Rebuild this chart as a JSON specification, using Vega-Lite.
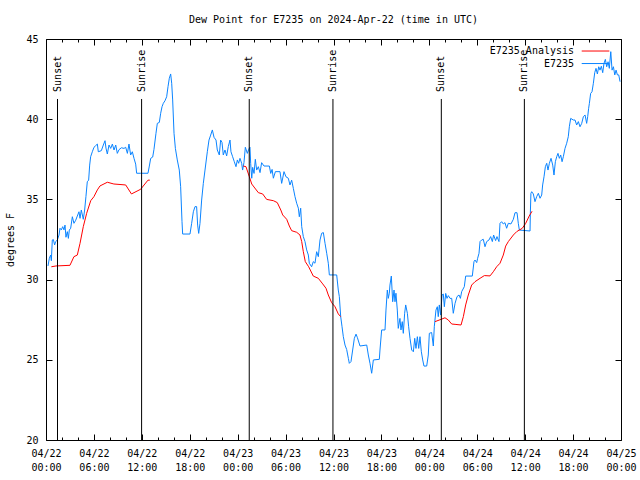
{
  "$schema": "https://vega.github.io/schema/vega-lite/v6.json",
  "width": 575,
  "height": 401,
  "autosize": {"type": "none"},
  "padding": {"left": 46, "top": 39, "right": 19, "bottom": 40},
  "background": "white",
  "title": {"text": "Dew Point for E7235 on 2024-Apr-22 (time in UTC)", "font": "DejaVu Sans Mono", "fontSize": 10, "fontWeight": "normal", "color": "black", "anchor": "middle", "baseline": "alphabetic", "offset": 1},
  "config": {
    "view": {"stroke": "black", "strokeWidth": 1},
    "axis": {"grid": false, "domain": false, "tickColor": "black", "labelFont": "DejaVu Sans Mono", "labelFontSize": 10, "labelColor": "black", "titleFont": "DejaVu Sans Mono", "titleFontSize": 10, "titleFontWeight": "normal", "titleColor": "black"}
  },
  "datasets": {
    "obs": [
      {"h":0.25,"v":30.85},{"h":0.42,"v":31.33},{"h":0.58,"v":31.53},{"h":0.67,"v":31.18},{"h":0.79,"v":32.47},{"h":0.92,"v":32.5},{"h":1.08,"v":32.16},{"h":1.21,"v":32.37},{"h":1.42,"v":32.47},{"h":1.63,"v":32.78},{"h":1.75,"v":33.2},{"h":1.92,"v":33.1},{"h":2.09,"v":33.3},{"h":2.25,"v":33.1},{"h":2.38,"v":33.4},{"h":2.5,"v":32.64},{"h":2.67,"v":32.99},{"h":2.8,"v":32.57},{"h":2.92,"v":33.09},{"h":3.09,"v":33.2},{"h":3.3,"v":33.92},{"h":3.5,"v":33.51},{"h":3.72,"v":33.7},{"h":3.92,"v":33.96},{"h":4.13,"v":34.23},{"h":4.26,"v":33.82},{"h":4.42,"v":34.34},{"h":4.67,"v":33.76},{"h":4.84,"v":34.34},{"h":5.0,"v":35.17},{"h":5.17,"v":36.1},{"h":5.34,"v":36.2},{"h":5.47,"v":37.14},{"h":5.59,"v":37.66},{"h":5.8,"v":37.97},{"h":6.01,"v":38.25},{"h":6.22,"v":38.35},{"h":6.43,"v":38.45},{"h":6.55,"v":37.97},{"h":6.93,"v":38.04},{"h":7.18,"v":38.39},{"h":7.39,"v":38.66},{"h":7.51,"v":38.2},{"h":7.68,"v":37.83},{"h":7.89,"v":38.39},{"h":8.1,"v":38.18},{"h":8.31,"v":38.45},{"h":8.52,"v":38.08},{"h":8.73,"v":38.39},{"h":8.93,"v":37.87},{"h":9.14,"v":38.1},{"h":9.44,"v":38.22},{"h":9.77,"v":38.18},{"h":9.98,"v":38.25},{"h":10.19,"v":37.87},{"h":10.39,"v":38.45},{"h":10.6,"v":37.77},{"h":10.81,"v":37.97},{"h":11.02,"v":37.56},{"h":11.23,"v":37.2},{"h":11.35,"v":36.63},{"h":11.85,"v":36.63},{"h":12.77,"v":36.63},{"h":12.94,"v":37.08},{"h":13.11,"v":37.56},{"h":13.36,"v":37.64},{"h":13.52,"v":38.12},{"h":13.77,"v":39.12},{"h":13.94,"v":39.74},{"h":14.19,"v":39.8},{"h":14.36,"v":40.37},{"h":14.53,"v":40.78},{"h":14.69,"v":40.99},{"h":14.9,"v":41.15},{"h":15.11,"v":41.4},{"h":15.28,"v":42.03},{"h":15.44,"v":42.55},{"h":15.61,"v":42.82},{"h":15.74,"v":42.24},{"h":15.86,"v":41.2},{"h":16.03,"v":39.12},{"h":16.2,"v":38.18},{"h":16.44,"v":37.46},{"h":16.69,"v":36.83},{"h":16.86,"v":35.79},{"h":17.03,"v":33.61},{"h":17.11,"v":32.84},{"h":18.03,"v":32.84},{"h":18.24,"v":33.51},{"h":18.45,"v":34.23},{"h":18.66,"v":34.55},{"h":18.86,"v":34.55},{"h":18.99,"v":33.4},{"h":19.12,"v":32.88},{"h":19.28,"v":33.5},{"h":19.49,"v":34.96},{"h":19.7,"v":36.0},{"h":19.91,"v":36.83},{"h":20.2,"v":37.97},{"h":20.41,"v":38.7},{"h":20.62,"v":39.01},{"h":20.83,"v":39.33},{"h":21.04,"v":38.87},{"h":21.29,"v":38.7},{"h":21.45,"v":38.08},{"h":21.7,"v":37.77},{"h":21.87,"v":38.7},{"h":22.04,"v":38.55},{"h":22.2,"v":37.77},{"h":22.41,"v":38.08},{"h":22.62,"v":37.71},{"h":22.83,"v":38.3},{"h":23.04,"v":38.7},{"h":23.16,"v":37.97},{"h":23.37,"v":37.66},{"h":23.58,"v":37.35},{"h":23.79,"v":37.04},{"h":23.96,"v":37.46},
      {"h":24.12,"v":37.25},{"h":24.29,"v":37.56},{"h":24.5,"v":37.25},{"h":24.62,"v":36.83},{"h":24.79,"v":37.3},{"h":24.96,"v":38.25},{"h":25.21,"v":37.87},{"h":25.38,"v":38.12},{"h":25.54,"v":38.25},{"h":25.63,"v":37.25},{"h":25.76,"v":36.32},{"h":25.88,"v":37.0},{"h":26.05,"v":36.62},{"h":26.21,"v":37.5},{"h":26.38,"v":36.83},{"h":26.59,"v":37.04},{"h":26.8,"v":36.67},{"h":27.0,"v":37.29},{"h":27.3,"v":37.08},{"h":27.97,"v":37.08},{"h":28.14,"v":36.62},{"h":28.31,"v":36.87},{"h":28.47,"v":36.32},{"h":28.72,"v":36.73},{"h":29.3,"v":36.73},{"h":29.51,"v":36.0},{"h":29.8,"v":36.73},{"h":30.05,"v":36.41},{"h":30.34,"v":36.32},{"h":30.55,"v":35.9},{"h":30.76,"v":36.2},{"h":30.97,"v":35.69},{"h":31.18,"v":35.17},{"h":31.39,"v":34.76},{"h":31.6,"v":34.45},{"h":31.72,"v":33.92},{"h":31.89,"v":34.45},{"h":32.02,"v":33.3},{"h":32.22,"v":32.68},{"h":32.43,"v":32.37},{"h":32.64,"v":31.85},{"h":32.85,"v":31.53},{"h":32.97,"v":31.02},{"h":33.26,"v":30.8},{"h":33.47,"v":31.12},{"h":33.68,"v":31.02},{"h":33.89,"v":31.74},{"h":34.1,"v":31.43},{"h":34.31,"v":32.47},{"h":34.52,"v":32.89},{"h":34.73,"v":32.93},{"h":34.94,"v":32.26},{"h":35.15,"v":31.64},{"h":35.35,"v":31.02},{"h":35.48,"v":30.29},{"h":36.4,"v":30.29},{"h":36.6,"v":29.35},{"h":36.73,"v":28.94},{"h":36.9,"v":27.69},{"h":37.07,"v":27.06},{"h":37.23,"v":26.44},{"h":37.44,"v":25.92},{"h":37.65,"v":25.64},{"h":37.86,"v":25.09},{"h":37.98,"v":24.78},{"h":38.19,"v":24.89},{"h":38.4,"v":25.61},{"h":38.61,"v":26.34},{"h":38.82,"v":26.6},{"h":38.98,"v":26.4},{"h":39.32,"v":25.86},{"h":40.16,"v":25.92},{"h":40.36,"v":25.3},{"h":40.57,"v":24.78},{"h":40.78,"v":24.16},{"h":40.99,"v":24.99},{"h":41.74,"v":25.03},{"h":41.82,"v":25.61},{"h":42.03,"v":26.86},{"h":42.45,"v":26.86},{"h":42.57,"v":28.1},{"h":42.74,"v":29.35},{"h":42.86,"v":28.83},{"h":42.99,"v":29.15},{"h":43.07,"v":29.66},{"h":43.24,"v":30.22},{"h":43.41,"v":28.62},{"h":43.58,"v":29.35},{"h":43.7,"v":28.62},{"h":43.82,"v":29.15},{"h":43.99,"v":28.1},{"h":44.11,"v":26.96},{"h":44.32,"v":27.58},{"h":44.45,"v":26.86},{"h":44.61,"v":27.38},{"h":44.74,"v":26.65},{"h":44.91,"v":27.9},{"h":45.04,"v":28.42},{"h":45.25,"v":27.9},{"h":45.41,"v":27.06},{"h":45.58,"v":26.34},{"h":45.79,"v":25.61},{"h":46.0,"v":25.5},{"h":46.17,"v":26.34},{"h":46.33,"v":25.71},{"h":46.5,"v":26.44},{"h":46.67,"v":25.71},{"h":46.83,"v":26.44},{"h":47.0,"v":25.5},{"h":47.17,"v":24.99},{"h":47.33,"v":24.61},{"h":47.67,"v":24.61},{"h":47.87,"v":25.3},
      {"h":48.0,"v":26.65},{"h":48.29,"v":26.7},{"h":48.5,"v":25.86},{"h":48.62,"v":27.06},{"h":48.83,"v":28.1},{"h":49.0,"v":28.31},{"h":49.12,"v":27.69},{"h":49.25,"v":28.42},{"h":49.42,"v":27.79},{"h":49.59,"v":29.04},{"h":49.75,"v":29.1},{"h":49.88,"v":28.31},{"h":50.05,"v":29.14},{"h":50.21,"v":28.83},{"h":50.38,"v":29.0},{"h":50.59,"v":28.83},{"h":50.8,"v":28.83},{"h":51.0,"v":27.9},{"h":51.22,"v":28.52},{"h":51.47,"v":28.94},{"h":51.72,"v":29.04},{"h":51.89,"v":28.83},{"h":52.05,"v":29.25},{"h":52.38,"v":29.56},{"h":52.55,"v":30.22},{"h":53.38,"v":30.22},{"h":53.59,"v":31.12},{"h":53.72,"v":31.22},{"h":53.93,"v":31.06},{"h":54.05,"v":31.33},{"h":54.22,"v":31.64},{"h":54.35,"v":32.37},{"h":54.55,"v":32.47},{"h":54.76,"v":32.51},{"h":54.97,"v":32.05},{"h":55.18,"v":32.37},{"h":55.47,"v":32.47},{"h":55.68,"v":32.68},{"h":55.89,"v":32.37},{"h":56.05,"v":32.78},{"h":56.3,"v":32.43},{"h":56.47,"v":32.68},{"h":56.72,"v":32.37},{"h":56.85,"v":33.51},{"h":57.05,"v":33.61},{"h":57.26,"v":33.47},{"h":57.47,"v":33.55},{"h":57.68,"v":33.2},{"h":57.89,"v":33.51},{"h":58.22,"v":33.47},{"h":58.52,"v":33.76},{"h":58.73,"v":34.17},{"h":58.98,"v":34.17},{"h":59.14,"v":33.51},{"h":59.27,"v":33.09},{"h":60.61,"v":33.03},{"h":60.65,"v":34.14},{"h":60.72,"v":35.38},{"h":60.82,"v":35.48},{"h":61.02,"v":35.34},{"h":61.23,"v":34.86},{"h":61.44,"v":35.17},{"h":61.65,"v":35.38},{"h":61.86,"v":35.07},{"h":62.07,"v":35.27},{"h":62.19,"v":35.9},{"h":62.36,"v":36.41},{"h":62.53,"v":37.04},{"h":62.7,"v":37.25},{"h":62.86,"v":36.83},{"h":63.03,"v":37.25},{"h":63.24,"v":37.56},{"h":63.45,"v":37.14},{"h":63.61,"v":36.52},{"h":63.78,"v":37.35},{"h":63.95,"v":37.66},{"h":64.11,"v":37.87},{"h":64.28,"v":37.56},{"h":64.45,"v":37.77},{"h":64.62,"v":37.35},{"h":64.78,"v":37.66},{"h":64.99,"v":38.18},{"h":65.2,"v":38.5},{"h":65.4,"v":38.91},{"h":65.53,"v":39.53},{"h":65.7,"v":40.05},{"h":66.03,"v":39.95},{"h":66.24,"v":39.95},{"h":66.45,"v":39.64},{"h":66.66,"v":39.85},{"h":66.87,"v":39.53},{"h":67.08,"v":39.74},{"h":67.29,"v":40.16},{"h":67.5,"v":40.26},{"h":67.7,"v":39.74},{"h":67.83,"v":40.16},{"h":67.95,"v":40.68},{"h":68.04,"v":40.99},{"h":68.2,"v":41.61},{"h":68.37,"v":41.71},{"h":68.54,"v":42.24},{"h":68.71,"v":42.9},{"h":68.87,"v":43.17},{"h":69.04,"v":42.82},{"h":69.21,"v":43.27},{"h":69.37,"v":43.06},{"h":69.54,"v":43.3},{"h":69.71,"v":42.9},{"h":69.87,"v":43.48},{"h":70.04,"v":43.73},{"h":70.21,"v":43.27},{"h":70.38,"v":43.58},{"h":70.54,"v":43.17},{"h":70.72,"v":44.21},{"h":70.88,"v":43.06},{"h":71.05,"v":43.27},{"h":71.22,"v":42.76},{"h":71.38,"v":43.06},{"h":71.55,"v":42.76},{"h":71.72,"v":42.76},{"h":71.88,"v":42.34}
    ],
    "ana": [
      {"h":0.67,"v":30.8,"seg":1},{"h":1.25,"v":30.85,"seg":1},{"h":3.0,"v":30.89,"seg":1},{"h":3.5,"v":31.43,"seg":1},{"h":3.92,"v":31.53,"seg":1},{"h":4.26,"v":32.26,"seg":1},{"h":4.67,"v":33.3,"seg":1},{"h":5.09,"v":34.13,"seg":1},{"h":5.6,"v":34.92,"seg":1},{"h":6.0,"v":35.17,"seg":1},{"h":6.43,"v":35.59,"seg":1},{"h":6.76,"v":35.84,"seg":1},{"h":7.68,"v":36.07,"seg":1},{"h":8.5,"v":35.96,"seg":1},{"h":9.98,"v":35.9,"seg":1},{"h":10.7,"v":35.34,"seg":1},{"h":11.85,"v":35.63,"seg":1},{"h":12.77,"v":36.2,"seg":1},{"h":13.0,"v":36.2,"seg":1},
      {"h":24.7,"v":37.08,"seg":2},{"h":25.04,"v":37.04,"seg":2},{"h":25.46,"v":36.42,"seg":2},{"h":25.76,"v":35.96,"seg":2},{"h":26.59,"v":35.42,"seg":2},{"h":27.13,"v":35.34,"seg":2},{"h":27.63,"v":35.0,"seg":2},{"h":28.47,"v":34.92,"seg":2},{"h":28.96,"v":34.8,"seg":2},{"h":29.4,"v":34.34,"seg":2},{"h":29.64,"v":34.03,"seg":2},{"h":30.14,"v":33.76,"seg":2},{"h":30.47,"v":33.34,"seg":2},{"h":30.76,"v":33.05,"seg":2},{"h":31.39,"v":32.95,"seg":2},{"h":31.8,"v":32.78,"seg":2},{"h":32.02,"v":32.37,"seg":2},{"h":32.22,"v":31.74,"seg":2},{"h":32.47,"v":31.12,"seg":2},{"h":32.89,"v":30.8,"seg":2},{"h":33.47,"v":30.22,"seg":2},{"h":34.1,"v":30.08,"seg":2},{"h":34.65,"v":29.73,"seg":2},{"h":35.06,"v":29.46,"seg":2},{"h":35.35,"v":29.04,"seg":2},{"h":35.77,"v":28.56,"seg":2},{"h":36.19,"v":28.31,"seg":2},{"h":36.6,"v":27.86,"seg":2},{"h":36.9,"v":27.69,"seg":2},
      {"h":48.71,"v":27.38,"seg":3},{"h":49.46,"v":27.52,"seg":3},{"h":49.96,"v":27.62,"seg":3},{"h":50.38,"v":27.48,"seg":3},{"h":50.8,"v":27.23,"seg":3},{"h":51.22,"v":27.21,"seg":3},{"h":51.97,"v":27.17,"seg":3},{"h":52.26,"v":27.69,"seg":3},{"h":52.55,"v":28.42,"seg":3},{"h":52.88,"v":29.04,"seg":3},{"h":53.3,"v":29.66,"seg":3},{"h":53.72,"v":29.87,"seg":3},{"h":54.35,"v":30.08,"seg":3},{"h":54.89,"v":30.25,"seg":3},{"h":55.6,"v":30.23,"seg":3},{"h":56.01,"v":30.49,"seg":3},{"h":56.43,"v":30.8,"seg":3},{"h":56.85,"v":31.02,"seg":3},{"h":57.26,"v":31.53,"seg":3},{"h":57.56,"v":32.09,"seg":3},{"h":57.89,"v":32.37,"seg":3},{"h":58.52,"v":32.78,"seg":3},{"h":58.94,"v":32.99,"seg":3},{"h":59.64,"v":33.2,"seg":3},{"h":60.07,"v":33.51,"seg":3},{"h":60.5,"v":33.96,"seg":3},{"h":60.86,"v":34.26,"seg":3}
    ],
    "sun": [
      {"h":1.44,"event":"Sunset"},{"h":11.97,"event":"Sunrise"},{"h":25.45,"event":"Sunset"},{"h":35.93,"event":"Sunrise"},{"h":49.5,"event":"Sunset"},{"h":59.9,"event":"Sunrise"}
    ],
    "legend": [
      {"label":"E7235 Analysis","series":"E7235 Analysis"},{"label":"E7235","series":"E7235"}
    ]
  },
  "layer": [
    {
      "data": {"name": "obs"},
      "mark": {"type": "line", "color": "#0a84ff", "strokeWidth": 1},
      "encoding": {
        "x": {"field": "h", "type": "quantitative", "scale": {"domain": [0, 72], "nice": false, "zero": false},
              "axis": {"orient": "bottom", "title": null, "values": [0, 6, 12, 18, 24, 30, 36, 42, 48, 54, 60, 66, 72], "tickSize": -6, "labelPadding": 14, "labelLineHeight": 14, "labelBaseline": "top", "labelFlush": false, "labelOverlap": false,
                       "labelExpr": "['04/' + (22 + floor(datum.value / 24)), (datum.value % 24 < 10 ? '0' : '') + (datum.value % 24) + ':00']"}},
        "y": {"field": "v", "type": "quantitative", "scale": {"domain": [20, 45], "nice": false, "zero": false},
              "axis": {"orient": "left", "title": "degrees F", "values": [20, 25, 30, 35, 40, 45], "tickSize": -6, "labelPadding": 14, "titlePadding": 10}}
      }
    },
    {
      "data": {"name": "ana"},
      "mark": {"type": "line", "color": "#ff0000", "strokeWidth": 1},
      "encoding": {
        "x": {"field": "h", "type": "quantitative",
              "axis": {"orient": "top", "title": null, "labels": false, "values": [0, 6, 12, 18, 24, 30, 36, 42, 48, 54, 60, 66, 72], "tickSize": -6}},
        "y": {"field": "v", "type": "quantitative",
              "axis": {"orient": "right", "title": null, "labels": false, "values": [20, 25, 30, 35, 40, 45], "tickSize": -6}},
        "detail": {"field": "seg", "type": "nominal"}
      }
    },
    {
      "data": {"name": "sun"},
      "mark": {"type": "rule", "color": "black", "strokeWidth": 1},
      "encoding": {
        "x": {"field": "h", "type": "quantitative",
              "axis": {"orient": "bottom", "title": null, "labels": false, "values": [2, 4, 8, 10, 14, 16, 20, 22, 26, 28, 32, 34, 38, 40, 44, 46, 50, 52, 56, 58, 62, 64, 68, 70], "tickSize": -3}},
        "y": {"datum": 41.26, "axis": null},
        "y2": {"datum": 20}
      }
    },
    {
      "data": {"name": "sun"},
      "mark": {"type": "text", "angle": 270, "align": "left", "baseline": "middle", "font": "DejaVu Sans Mono", "fontSize": 10, "color": "black"},
      "encoding": {
        "x": {"field": "h", "type": "quantitative",
              "axis": {"orient": "top", "title": null, "labels": false, "values": [2, 4, 8, 10, 14, 16, 20, 22, 26, 28, 32, 34, 38, 40, 44, 46, 50, 52, 56, 58, 62, 64, 68, 70], "tickSize": -3}},
        "y": {"datum": 41.7, "axis": null},
        "text": {"field": "event"}
      }
    },
    {
      "data": {"name": "legend"},
      "transform": [{"filter": "datum.series == 'E7235 Analysis'"}],
      "layer": [
        {"mark": {"type": "text", "align": "right", "baseline": "middle", "font": "DejaVu Sans Mono", "fontSize": 10, "color": "black"},
         "encoding": {"x": {"datum": 66.12, "axis": null}, "y": {"datum": 44.25, "axis": null}, "text": {"field": "label"}}},
        {"mark": {"type": "rule", "color": "#ff0000", "strokeWidth": 1},
         "encoding": {"x": {"datum": 67.08, "axis": null}, "x2": {"datum": 70.54}, "y": {"datum": 44.25, "axis": null}}}
      ]
    },
    {
      "data": {"name": "legend"},
      "transform": [{"filter": "datum.series == 'E7235'"}],
      "layer": [
        {"mark": {"type": "text", "align": "right", "baseline": "middle", "font": "DejaVu Sans Mono", "fontSize": 10, "color": "black"},
         "encoding": {"x": {"datum": 66.12, "axis": null}, "y": {"datum": 43.47, "axis": null}, "text": {"field": "label"}}},
        {"mark": {"type": "rule", "color": "#0a84ff", "strokeWidth": 1},
         "encoding": {"x": {"datum": 67.08, "axis": null}, "x2": {"datum": 70.54}, "y": {"datum": 43.47, "axis": null}}}
      ]
    }
  ],
  "resolve": {"axis": {"x": "independent", "y": "independent"}}
}
